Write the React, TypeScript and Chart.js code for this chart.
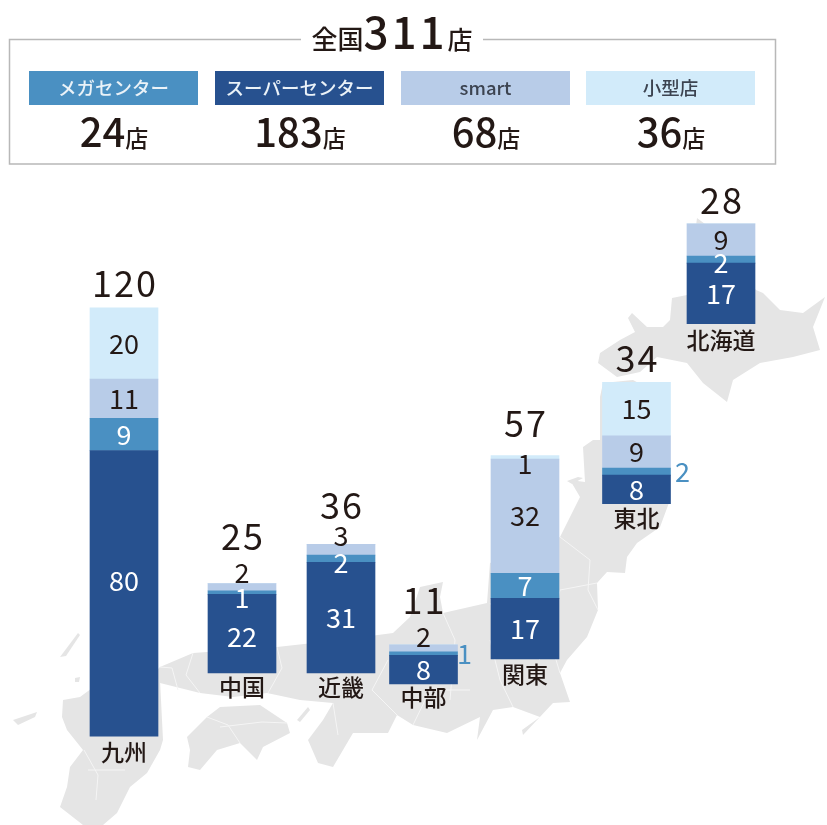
import React, { useEffect, useRef } from "react";
import { Chart, registerables } from "chart.js";

Chart.register(...registerables);

const regions = ["九州", "中国", "近畿", "中部", "関東", "東北", "北海道"];
const superCenter = [80, 22, 31, 8, 17, 8, 17];
const megaCenter = [9, 1, 2, 1, 7, 2, 2];
const smart = [11, 2, 3, 2, 32, 9, 9];
const smallStore = [20, 0, 0, 0, 1, 15, 0];
const regionTotals = [120, 25, 36, 11, 57, 34, 28];

const typeNames = ["メガセンター", "スーパーセンター", "smart", "小型店"];
const typeTotals = [24, 183, 68, 36];
const grandTotal = 311;

// Where each region's stack sits on the map (axis units of the hidden scales)
const mapX = [124, 242, 341, 423.5, 525, 636.5, 721];
const mapBase = [24.9, 42.6, 42.6, 39.5, 46.5, 90, 140.4];

const FONT = '"Noto Sans CJK JP", "Noto Sans", sans-serif';
const INK = "#231815";
const C_SUPER = "#27518f";
const C_MEGA = "#4a90c2";
const C_SMART = "#b8cce8";
const C_SMALL = "#d2ebfa";
const swatches = [C_MEGA, C_SUPER, C_SMART, C_SMALL];

const seriesList = [
  { label: "スーパーセンター", values: superCenter, color: C_SUPER },
  { label: "メガセンター", values: megaCenter, color: C_MEGA },
  { label: "smart", values: smart, color: C_SMART },
  { label: "小型店", values: smallStore, color: C_SMALL },
];

function floating(series: number) {
  return regions.map((_, i) => {
    let start = mapBase[i];
    for (let s = 0; s < series; s++) start += seriesList[s].values[i];
    return { x: mapX[i], y: [start, start + seriesList[series].values[i]] };
  });
}

// Decorative map silhouette, page coordinates
const landShapes = [
  "M697 218 L705 224 L756 290 L763 293 L780 310 L803 313 L825 297 L813 327 L820 350 L793 357 L760 363 L733 380 L727 402 L703 383 L687 363 L657 357 L640 372 L617 377 L598 363 L600 353 L620 340 L635 332 L628 318 L632 313 L647 327 L663 327 L670 320 L672 298 L687 295 Z",
  "M600 397 L603 383 L633 380 L670 400 L670 500 L660 527 L637 543 L627 557 L625 573 L607 572 L597 583 L598 610 L587 637 L567 660 L560 673 L570 702 L553 703 L523 735 L522 730 L540 717 L513 707 L493 710 L477 740 L480 717 L447 733 L413 725 L397 715 L388 733 L353 733 L333 767 L318 763 L308 740 L323 720 L333 703 L300 700 L267 693 L233 697 L200 693 L160 683 L155 672 L160 667 L193 653 L277 647 L340 640 L393 633 L410 617 L420 587 L443 582 L440 597 L443 613 L487 603 L490 563 L560 537 L580 497 L570 480 L585 482 L583 447 L593 440 L600 440 Z",
  "M187 737 L207 717 L220 707 L260 705 L287 723 L290 733 L263 747 L257 760 L240 743 L217 750 L200 770 L188 767 L190 750 Z",
  "M297 720 L308 707 L310 710 L300 722 Z",
  "M63 700 L80 697 L130 660 L160 680 L163 740 L160 750 L147 773 L130 787 L117 813 L103 825 L83 825 L60 807 L67 787 L70 767 L83 750 L67 730 L62 717 Z",
  "M13 720 L37 712 L35 717 L18 725 Z",
  "M60 657 L78 633 L80 635 L66 656 Z",
  "M75 678 L80 677 L79 682 L75 682 Z",
  "M567 481 L578 477 L583 478 L572 484 Z",
];
const prefLines = [
  "M160 667 L172 668 L178 690",
  "M193 653 L186 675 L200 693",
  "M277 647 L282 668 L268 693",
  "M207 717 L228 725 L240 743",
  "M220 727 L262 722 L287 723",
  "M84 750 L98 775 L96 800",
  "M88 770 L125 770",
  "M333 703 L338 735",
  "M388 660 L372 690 L397 715",
  "M443 613 L455 640 L450 700",
  "M490 640 L500 680 L513 707",
  "M560 537 L590 560 L588 590 L598 610",
  "M597 583 L560 590 L550 640 L560 673",
  "M490 603 L500 620 L540 660",
  "M413 725 L430 690 L470 690",
];

// Label nudges: dataset-region -> offset from the segment centre
const labelNudge: Record<string, { dx?: number; dy?: number; color?: string }> = {
  "0-0": { dy: -13 },
  "0-1": { dy: 3 },
  "1-1": { dy: 5 },
  "1-2": { dy: 4 },
  "1-3": { dx: 41, color: C_MEGA },
  "1-5": { dx: 46, color: C_MEGA },
  "1-6": { dy: 3 },
  "2-1": { dy: -15 },
  "2-2": { dy: -14 },
  "2-3": { dy: -12 },
  "3-4": { dy: 6 },
};
const whiteOn = [true, true, false, false];
const totalLift = [24, 47, 39, 44, 32, 24, 24];
const nameDrop = [16, 14, 14, 13, 15, 15, 16];

type Run = { text: string; size: number; weight?: number; spacing?: number };

function drawRuns(ctx: CanvasRenderingContext2D, runs: Run[], cx: number, cy: number) {
  const widths = runs.map((r) => {
    ctx.font = `${r.weight ?? 500} ${r.size}px ${FONT}`;
    (ctx as any).letterSpacing = `${r.spacing ?? 0}px`;
    return ctx.measureText(r.text).width;
  });
  let x = cx - widths.reduce((a, b) => a + b, 0) / 2;
  ctx.textAlign = "left";
  ctx.textBaseline = "alphabetic";
  ctx.fillStyle = INK;
  runs.forEach((r, i) => {
    ctx.font = `${r.weight ?? 500} ${r.size}px ${FONT}`;
    (ctx as any).letterSpacing = `${r.spacing ?? 0}px`;
    ctx.fillText(r.text, x, cy);
    x += widths[i];
  });
  (ctx as any).letterSpacing = "0px";
}

const mapPlugin = {
  id: "japanMap",
  beforeDatasetsDraw(chart: any) {
    const ctx: CanvasRenderingContext2D = chart.ctx;
    ctx.save();
    ctx.fillStyle = "#e5e5e5";
    landShapes.forEach((d) => ctx.fill(new Path2D(d)));
    ctx.strokeStyle = "#f5f5f5";
    ctx.lineWidth = 1;
    prefLines.forEach((d) => ctx.stroke(new Path2D(d)));
    ctx.restore();
  },
};

const labelPlugin = {
  id: "stackLabels",
  afterDatasetsDraw(chart: any) {
    const ctx: CanvasRenderingContext2D = chart.ctx;
    ctx.save();
    ctx.textAlign = "center";
    ctx.textBaseline = "middle";
    seriesList.forEach((s, d) => {
      const meta = chart.getDatasetMeta(d);
      s.values.forEach((v, i) => {
        if (!v) return;
        const bar = meta.data[i];
        const nudge = labelNudge[`${d}-${i}`] ?? {};
        ctx.font = `400 27px ${FONT}`;
        ctx.fillStyle = nudge.color ?? (whiteOn[d] ? "#ffffff" : INK);
        ctx.fillText(String(v), bar.x + (nudge.dx ?? 0), (bar.y + bar.base) / 2 + (nudge.dy ?? 0));
      });
    });
    const top = chart.getDatasetMeta(0).data;
    regions.forEach((name, i) => {
      const x = top[i].x;
      const base = top[i].base;
      const yTop = chart.scales.y.getPixelForValue(mapBase[i] + regionTotals[i]);
      ctx.fillStyle = INK;
      ctx.font = `400 36px ${FONT}`;
      (ctx as any).letterSpacing = "2px";
      ctx.fillText(String(regionTotals[i]), x + 1, yTop - totalLift[i]);
      (ctx as any).letterSpacing = "0px";
      ctx.font = `500 23px ${FONT}`;
      ctx.fillText(name, x, base + nameDrop[i]);
    });
    ctx.restore();
  },
};

const legendPlugin = {
  id: "summaryPanel",
  afterDraw(chart: any) {
    const ctx: CanvasRenderingContext2D = chart.ctx;
    ctx.save();
    ctx.strokeStyle = "#b8b8b8";
    ctx.lineWidth = 1.5;
    ctx.beginPath();
    ctx.moveTo(301, 39.5);
    ctx.lineTo(9.5, 39.5);
    ctx.lineTo(9.5, 164);
    ctx.lineTo(775.5, 164);
    ctx.lineTo(775.5, 39.5);
    ctx.lineTo(483, 39.5);
    ctx.stroke();

    drawRuns(
      ctx,
      [
        { text: "全国", size: 26 },
        { text: String(grandTotal), size: 44, spacing: 3 },
        { text: "店", size: 25 },
      ],
      392,
      49
    );

    const lefts = [29, 215, 401, 586];
    typeNames.forEach((name, i) => {
      ctx.fillStyle = swatches[i];
      ctx.fillRect(lefts[i], 71, 169, 34);
      ctx.fillStyle = i < 2 ? "#eaf2f8" : "#3c4350";
      ctx.font = `500 18.5px ${FONT}`;
      ctx.textAlign = "center";
      ctx.textBaseline = "middle";
      ctx.fillText(name, lefts[i] + 84.5, 88);
      drawRuns(
        ctx,
        [
          { text: String(typeTotals[i]), size: 40 },
          { text: "店", size: 23 },
        ],
        lefts[i] + 85,
        147
      );
    });
    ctx.restore();
  },
};

export default function App() {
  const ref = useRef<HTMLCanvasElement>(null);
  useEffect(() => {
    if (!ref.current) return;
    const chart = new Chart(ref.current, {
      type: "bar",
      data: {
        datasets: seriesList.map((s, d) => ({
          label: s.label,
          data: floating(d) as any,
          backgroundColor: s.color,
          borderWidth: 0,
          barThickness: 68,
          grouped: false,
        })),
      },
      options: {
        animation: false,
        responsive: false,
        layout: { padding: 0 },
        plugins: { legend: { display: false }, tooltip: { enabled: false }, title: { display: false } },
        scales: {
          x: { type: "linear", min: 0, max: 827, display: false, offset: false },
          y: { type: "linear", min: 0, max: 231.1, display: false },
        },
      },
      plugins: [mapPlugin, labelPlugin, legendPlugin],
    });
    return () => chart.destroy();
  }, []);
  return (
    <div style={{ position: "absolute", left: 0, top: 0, width: 827, height: 825, overflow: "hidden", background: "#fff" }}>
      <canvas ref={ref} width={827} height={825} style={{ display: "block", filter: "blur(0.4px)" }} />
    </div>
  );
}
